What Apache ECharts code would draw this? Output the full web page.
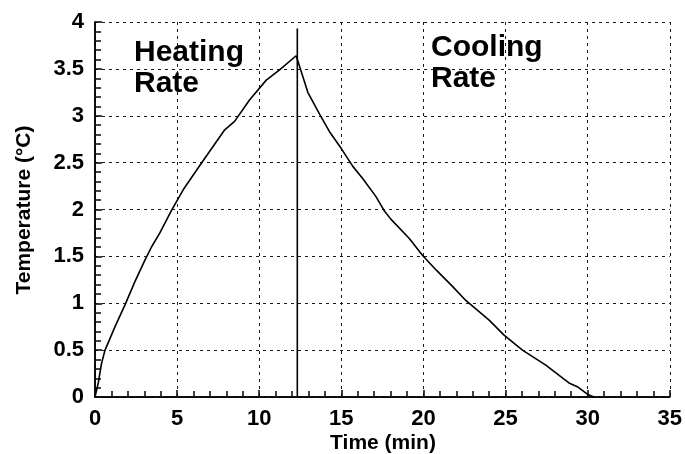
<!DOCTYPE html>
<html>
<head>
<meta charset="utf-8">
<script src="https://cdn.jsdelivr.net/npm/echarts@6/dist/echarts.min.js"></script>
<style>
  html, body { margin: 0; padding: 0; background: #fff; }
  #chart { width: 685px; height: 454px; }
</style>
</head>
<body>
<div id="chart"></div>
<script>
// time (min) and temperature (°C)
var timeData = [0, 0.2, 0.4, 0.61, 1.22, 1.82, 2.43, 3.04, 3.44, 3.95, 4.66, 5.37, 6.38, 7.9, 8.5, 9.42, 10.43, 11.24, 12.25, 12.35,
                12.96, 13.7, 14.28, 15.0, 15.7, 16.3, 17.1, 17.6, 18.0, 19.14, 19.95, 20.8, 21.77, 22.58, 24.0, 24.91,
                26.03, 27.45, 28.86, 29.37, 29.98, 30.38];
var tempData = [0, 0.15, 0.36, 0.50, 0.75, 0.98, 1.23, 1.46, 1.60, 1.75, 1.99, 2.21, 2.47, 2.85, 2.94, 3.17, 3.38, 3.49, 3.64, 3.65,
                3.25, 3.01, 2.83, 2.65, 2.46, 2.33, 2.14, 1.99, 1.90, 1.69, 1.51, 1.35, 1.18, 1.03, 0.82, 0.66,
                0.50, 0.34, 0.15, 0.11, 0.03, 0];

// vertical line where heating switches to cooling
var switchTime = [12.32, 12.32];
var switchTemp = [0, 3.93];

var xTicks = [0, 5, 10, 15, 20, 25, 30, 35];
var yTicks = [0, 0.5, 1, 1.5, 2, 2.5, 3, 3.5, 4];

var curve = timeData.map(function (t, i) { return [t, tempData[i]]; });
var switchLine = switchTime.map(function (t, i) { return [t, switchTemp[i]]; });

var font = 'Liberation Sans';

function mainAxis(ticks, interval) {
  return {
    type: 'value',
    min: ticks[0], max: ticks[ticks.length - 1], interval: interval,
    axisLine: { show: true, lineStyle: { color: '#000', width: 1.5 } },
    axisTick: { show: true, inside: true, length: 7, lineStyle: { color: '#111', width: 1.6 } },
    minorTick: { show: true, splitNumber: 5, length: 6, lineStyle: { color: '#141414', width: 1.6 } },
    axisLabel: { fontFamily: font, fontWeight: 'bold', fontSize: 22, color: '#000', margin: 11 },
    splitLine: { show: true, lineStyle: { color: '#1a1a1a', width: 1, type: [3, 4] } }
  };
}

// plain frame axes for the top and right edges
function frameAxis(pos, ticks) {
  return {
    type: 'value', position: pos,
    min: ticks[0], max: ticks[ticks.length - 1],
    axisLine: { show: true, lineStyle: { color: '#000', width: 1.5 } },
    axisTick: { show: false }, axisLabel: { show: false }, splitLine: { show: false }
  };
}

var chart = echarts.init(document.getElementById('chart'));
chart.setOption({
  animation: false,
  grid: { left: 95, right: 14, top: 22, bottom: 57 },
  xAxis: [mainAxis(xTicks, 5), frameAxis('top', xTicks)],
  yAxis: [mainAxis(yTicks, 0.5), frameAxis('right', yTicks)],
  graphic: [
    {
      type: 'text', x: 383, y: 443, z: 10,
      style: { text: 'Time (min)', align: 'center', verticalAlign: 'middle',
               fontFamily: font, fontWeight: 'bold', fontSize: 21, fill: '#000' }
    },
    {
      type: 'text', x: 24, y: 210, rotation: Math.PI / 2, z: 10,
      style: { text: 'Temperature (°C)', align: 'center', verticalAlign: 'middle',
               fontFamily: font, fontWeight: 'bold', fontSize: 21, fill: '#000' }
    },
    {
      type: 'text', left: 134, top: 37, z: 10,
      style: { text: 'Heating\nRate', fontFamily: font, fontWeight: 'bold', fontSize: 30, lineHeight: 31, fill: '#000' }
    },
    {
      type: 'text', left: 431, top: 32, z: 10,
      style: { text: 'Cooling\nRate', fontFamily: font, fontWeight: 'bold', fontSize: 30, lineHeight: 31, fill: '#000' }
    }
  ],
  series: [
    {
      type: 'line', data: curve, showSymbol: false, smooth: false,
      lineStyle: { color: '#000', width: 1.6 }, z: 5
    },
    {
      type: 'line', data: switchLine, showSymbol: false,
      lineStyle: { color: '#000', width: 1.6 }, z: 5
    }
  ]
});
</script>
</body>
</html>
